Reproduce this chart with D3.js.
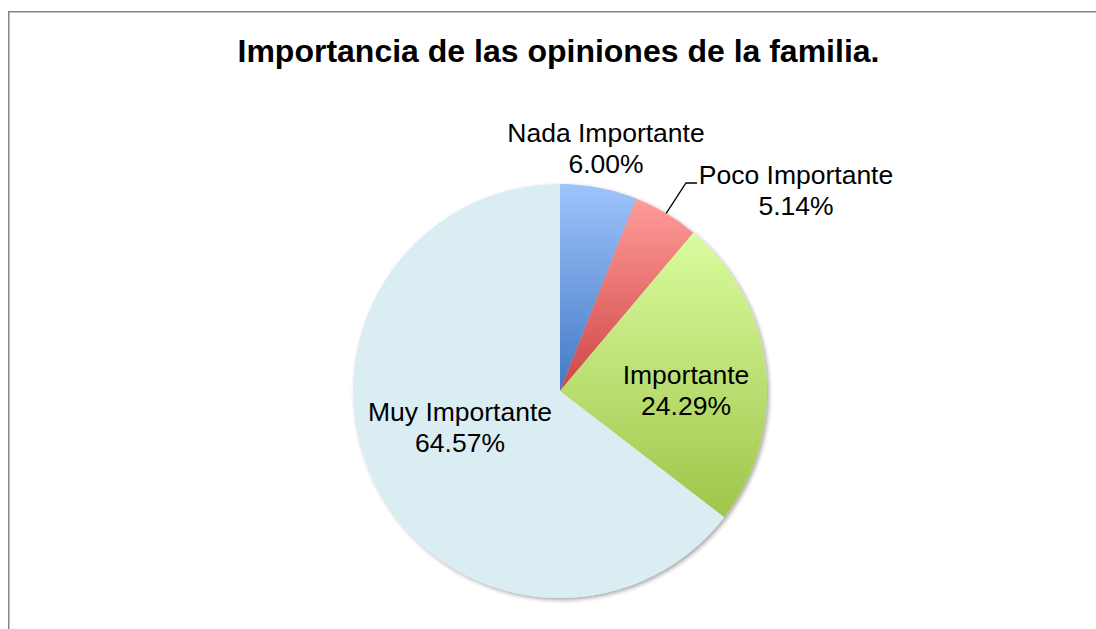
<!DOCTYPE html>
<html lang="es">
<head>
    <meta charset="UTF-8">
    <title>Importancia de las opiniones de la familia</title>
    <script src="https://cdn.jsdelivr.net/npm/d3@7"></script>
    <style>
        html, body { margin: 0; padding: 0; background: #fff; }
        #chart { width: 1096px; height: 629px; }
        text { font-family: "Liberation Sans", Arial, sans-serif; }
    </style>
</head>
<body>
    <div id="chart"></div>

    <script>
        // Datos del gráfico
        const categorias = ["Nada Importante", "Poco Importante", "Importante", "Muy Importante"];
        const porcentajes = [6.00, 5.14, 24.29, 64.57];
        const etiquetas = ["6.00%", "5.14%", "24.29%", "64.57%"];

        const width = 1096, height = 629;
        const cx = 560, cy = 391, radius = 207;

        // colores: [arriba, abajo] del degradado
        const colores = [
            ["#9ec4fb", "#4378c6"],
            ["#ff9c9a", "#cf4544"],
            ["#dafc9e", "#9fc54a"],
            ["#daedf3", "#daedf3"]
        ];

        const svg = d3.select("#chart")
            .append("svg")
            .attr("width", width)
            .attr("height", height);

        const defs = svg.append("defs");

        const sombra = defs.append("filter")
            .attr("id", "sombra")
            .attr("x", "-10%").attr("y", "-10%")
            .attr("width", "120%").attr("height", "120%");
        sombra.append("feGaussianBlur").attr("in", "SourceAlpha").attr("stdDeviation", 2);
        sombra.append("feOffset").attr("dx", 1.5).attr("dy", 2).attr("result", "b");
        sombra.append("feComponentTransfer").append("feFuncA").attr("type", "linear").attr("slope", 0.35);
        const merge = sombra.append("feMerge");
        merge.append("feMergeNode");
        merge.append("feMergeNode").attr("in", "SourceGraphic");

        colores.forEach((c, i) => {
            const g = defs.append("linearGradient")
                .attr("id", "grad" + i)
                .attr("x1", 0).attr("y1", 0).attr("x2", 0).attr("y2", 1);
            g.append("stop").attr("offset", "0%").attr("stop-color", c[0]);
            g.append("stop").attr("offset", "100%").attr("stop-color", c[1]);
        });

        // marco
        svg.append("rect")
            .attr("x", 8.75).attr("y", 11.75)
            .attr("width", width).attr("height", height)
            .attr("fill", "none")
            .attr("stroke", "#868686")
            .attr("stroke-width", 1.5);

        svg.append("text")
            .attr("x", 558.5)
            .attr("y", 62)
            .attr("text-anchor", "middle")
            .attr("font-size", 32)
            .attr("font-weight", "bold")
            .text("Importancia de las opiniones de la familia.");

        const datos = categorias.map((c, i) => ({ nombre: c, valor: porcentajes[i], etiqueta: etiquetas[i], i }));

        const pie = d3.pie().sort(null).value(d => d.valor);
        const arc = d3.arc().innerRadius(0).outerRadius(radius);
        const arcBorde = d3.arc().innerRadius(radius).outerRadius(radius);

        const g = svg.append("g").attr("transform", `translate(${cx},${cy})`);

        const arcos = pie(datos);

        g.append("g")
            .attr("filter", "url(#sombra)")
            .selectAll("path")
            .data(arcos)
            .join("path")
            .attr("d", arc)
            .attr("fill", d => `url(#grad${d.data.i})`);

        // posiciones de las etiquetas relativas al centro
        const posEtiquetas = [
            [46, -249],
            [236, -207],
            [126, -7],
            [-100, 30]
        ];

        // línea guía de "Poco Importante"
        const p = arcBorde.centroid(arcos[1]);
        g.append("polyline")
            .attr("points", [p, [126, -208], [137, -208]].map(q => q.join(",")).join(" "))
            .attr("fill", "none")
            .attr("stroke", "#000")
            .attr("stroke-width", 1.3);

        const etiq = g.append("g")
            .attr("font-size", 26.5)
            .attr("text-anchor", "middle")
            .attr("fill", "#000")
            .selectAll("text")
            .data(arcos)
            .join("text")
            .attr("transform", d => `translate(${posEtiquetas[d.data.i]})`);

        etiq.append("tspan").attr("x", 0).attr("y", 0).text(d => d.data.nombre);
        etiq.append("tspan").attr("x", 0).attr("y", 31).text(d => d.data.etiqueta);
    </script>
</body>
</html>
